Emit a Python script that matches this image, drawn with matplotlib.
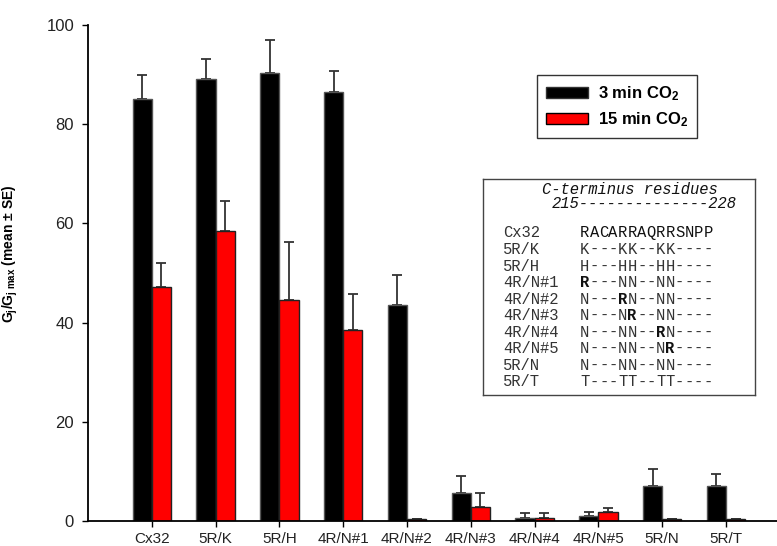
import numpy as np
import matplotlib
matplotlib.use("Agg")
import matplotlib.pyplot as plt
from matplotlib.patches import Patch

plt.rcParams['font.family'] = ['Liberation Sans', 'DejaVu Sans']
plt.rcParams['mathtext.fontset'] = 'custom'
plt.rcParams['mathtext.rm'] = 'Liberation Sans'
plt.rcParams['mathtext.bf'] = 'Liberation Sans:bold'
plt.rcParams['mathtext.it'] = 'Liberation Sans:italic'
plt.rcParams['mathtext.default'] = 'bf'

# Data: normalized junctional conductance after CO2 exposure
categories = ['Cx32', '5R/K', '5R/H', '4R/N#1', '4R/N#2',
              '4R/N#3', '4R/N#4', '4R/N#5', '5R/N', '5R/T']
min3_mean = [85.0, 89.2, 90.4, 86.4, 43.5, 5.6, 0.7, 1.1, 7.0, 7.0]
min3_se = [5.0, 3.9, 6.6, 4.3, 6.0, 3.5, 0.9, 0.7, 3.5, 2.5]
min15_mean = [47.2, 58.5, 44.6, 38.5, 0.4, 2.8, 0.7, 1.8, 0.4, 0.4]
min15_se = [4.9, 6.1, 11.7, 7.2, 0.0, 2.8, 0.9, 0.9, 0.0, 0.0]
series_labels = ['3 min CO$_2$', '15 min CO$_2$']
yticks = [0, 20, 40, 60, 80, 100]

# C-terminus residue table
table_title = 'C-terminus residues'
table_range = '215--------------228'
table_names = ['Cx32', '5R/K', '5R/H', '4R/N#1', '4R/N#2',
               '4R/N#3', '4R/N#4', '4R/N#5', '5R/N', '5R/T']
table_seqs = ['RACARRAQRRSNPP', 'K---KK--KK----', 'H---HH--HH----',
              'R---NN--NN----', 'N---RN--NN----', 'N---NR--NN----',
              'N---NN--RN----', 'N---NN--NR----', 'N---NN--NN----',
              'T---TT--TT----']

W, H = 777, 546
fig = plt.figure(figsize=(W / 100, H / 100), dpi=100)
ax = fig.add_axes([88 / W, (H - 521) / H, (W - 88) / W, (521 - 25) / H])

x = np.arange(len(categories))
w = 0.3
ax.bar(x - w / 2, min3_mean, w, color='black', edgecolor='#555555',
       linewidth=1.0, zorder=2)
ax.bar(x + w / 2, min15_mean, w, color='#ff0000', edgecolor='#222222',
       linewidth=1.0, zorder=2)
zeros = np.zeros(len(categories))
ax.errorbar(x - w / 2, min3_mean, yerr=[zeros, min3_se], fmt='none',
            ecolor='#333333', elinewidth=1.3, capsize=3.4, capthick=1.3, zorder=1)
ax.errorbar(x + w / 2, min15_mean, yerr=[zeros, min15_se], fmt='none',
            ecolor='#333333', elinewidth=1.3, capsize=3.4, capthick=1.3, zorder=1)

ax.set_xlim(-1.0, 9.8)
ax.set_ylim(0, 100)
ax.set_yticks(yticks)
ax.set_xticks(x)
ax.set_xticklabels(categories)
for s in ['top', 'right']:
    ax.spines[s].set_visible(False)
for s in ['left', 'bottom']:
    ax.spines[s].set_linewidth(1.3)
ax.tick_params(axis='y', direction='out', length=4, width=1, pad=6,
               labelsize=12, labelcolor='#222222')
ax.tick_params(axis='x', direction='out', length=4, width=1, pad=4,
               labelsize=11, labelcolor='#222222')

ax.set_ylabel(r'$G_j/G_{j\ max}$ (mean ± SE)', fontsize=10, fontweight='bold')
ax.yaxis.set_label_coords((20 - 88) / (W - 88), (521 - 254) / (521 - 25))

handles = [Patch(facecolor='black', edgecolor='#333333'),
           Patch(facecolor='#ff0000', edgecolor='black')]
leg = ax.legend(handles, series_labels, loc='upper left',
                bbox_to_anchor=(537 / W, 1 - 75 / H),
                bbox_transform=fig.transFigure, borderaxespad=0,
                prop={'weight': 'bold', 'size': 12}, fancybox=False,
                framealpha=1, edgecolor='#333333', handlelength=2.5,
                handleheight=0.6, handletextpad=0.6, labelspacing=0.45,
                borderpad=0.55)
leg.get_frame().set_linewidth(1.0)

# Residue table box, drawn in its own pixel-based axes
bx0, by0, bx1, by1 = 483, 179, 755, 395
tab = fig.add_axes([bx0 / W, (H - by1) / H, (bx1 - bx0) / W, (by1 - by0) / H])
tab.set_xlim(0, bx1 - bx0)
tab.set_ylim(by1 - by0, 0)
tab.set_xticks([])
tab.set_yticks([])
for s in tab.spines.values():
    s.set_linewidth(1.0)
    s.set_edgecolor('#444444')

mono = 'Liberation Mono'
fs = 11.2
tab.text(542 - bx0, 190 - by0, table_title, family=mono, style='italic',
         fontsize=fs, ha='left', va='center', color='#111111')
tab.text(552 - bx0, 204 - by0, table_range, family=mono, style='italic',
         fontsize=fs, ha='left', va='center', color='#111111')
char_w = 9.5
for i, (name, seq) in enumerate(zip(table_names, table_seqs)):
    yy = 233 - by0 + i * 16.55
    tab.text(503 - bx0, yy, name, family=mono, fontsize=fs, ha='left',
             va='center', color='#333333')
    for k, ch in enumerate(seq):
        bold = (i > 0 and ch == 'R')
        tab.text(580 - bx0 + k * char_w, yy, ch, family=mono, fontsize=fs,
                 ha='left', va='center',
                 fontweight='bold' if bold else 'normal',
                 color='#111111' if (bold or i == 0) else '#333333')

fig.savefig('out.png', dpi=100)
